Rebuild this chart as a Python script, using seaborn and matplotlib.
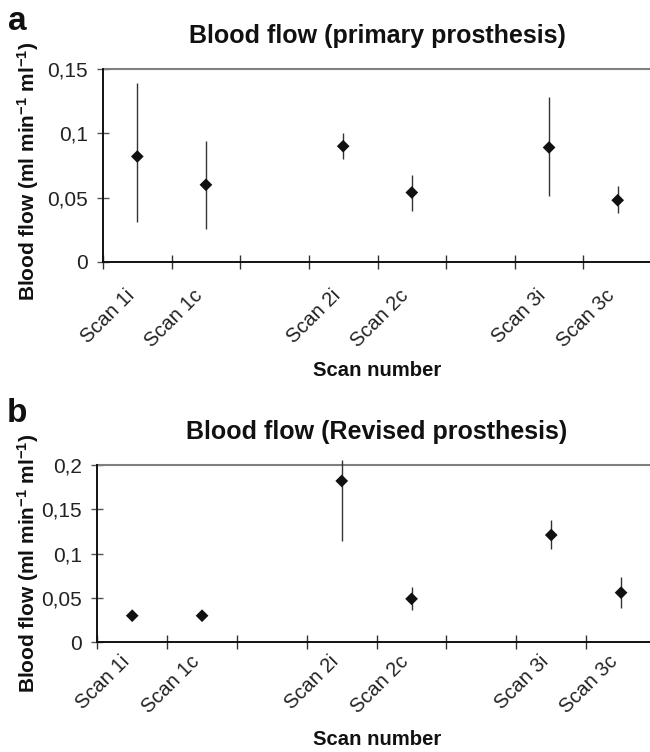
import numpy as np
import pandas as pd
import matplotlib
matplotlib.use("Agg")
import matplotlib.pyplot as plt
import matplotlib.transforms as mtransforms
import seaborn as sns

# ---- data ----
scans = ["Scan 1i", "Scan 1c", "Scan 2i", "Scan 2c", "Scan 3i", "Scan 3c"]
slots = [0, 1, 3, 4, 6, 7]          # category slot index on an 8-slot axis
n_slots = 8

primary_mean = [0.082, 0.060, 0.090, 0.054, 0.089, 0.048]
primary_low = [0.031, 0.026, 0.080, 0.040, 0.051, 0.038]
primary_high = [0.139, 0.094, 0.100, 0.068, 0.128, 0.059]

revised_mean = [0.030, 0.030, 0.182, 0.049, 0.121, 0.056]
revised_low = [0.030, 0.030, 0.114, 0.036, 0.105, 0.039]
revised_high = [0.030, 0.030, 0.206, 0.062, 0.138, 0.074]

yticks_a = [0, 0.05, 0.1, 0.15]
ytick_labels_a = ["0", "0,05", "0,1", "0,15"]
yticks_b = [0, 0.05, 0.1, 0.15, 0.2]
ytick_labels_b = ["0", "0,05", "0,1", "0,15", "0,2"]

title_a = "Blood flow (primary prosthesis)"
title_b = "Blood flow (Revised prosthesis)"
ylabel = "Blood flow (ml min$^{-1}$ ml$^{-1}$)"
xlabel = "Scan number"

# ---- style ----
sns.set_style("ticks")
plt.rcParams["font.family"] = ["Liberation Sans", "DejaVu Sans"]
plt.rcParams["mathtext.fontset"] = "custom"
plt.rcParams["mathtext.bf"] = "Liberation Sans:bold"
plt.rcParams["mathtext.rm"] = "Liberation Sans:bold"
plt.rcParams["mathtext.default"] = "bf"

fig = plt.figure(figsize=(6.5, 7.52), dpi=100)
W, H = 650, 752


def make_axes(left, right, top, bottom):
    return fig.add_axes([left / W, 1 - bottom / H, (right - left) / W, (bottom - top) / H])


ax_a = make_axes(103, 652, 69, 262)
ax_b = make_axes(97.3, 656, 465, 642.3)


def draw(ax, mean, low, high, yticks, yticklabels, ymax, title, title_y,
         xpad, ylab_xy, xlab_y):
    df = pd.DataFrame({"scan": scans, "pos": np.array(slots) + 0.5,
                       "mean": mean, "low": low, "high": high})
    ax.vlines(df["pos"], df["low"], df["high"], color="#333333",
              linewidth=1.0, zorder=2, clip_on=False)
    sns.scatterplot(data=df, x="pos", y="mean", marker="D", s=42,
                    color="#111111", edgecolor="none", ax=ax, zorder=3,
                    clip_on=False, legend=False)
    ax.set_xlim(0, n_slots)
    ax.set_ylim(0, ymax)
    ax.axhline(ymax, color="#7f7f7f", linewidth=1.5, zorder=1, clip_on=False)
    for s in ["top", "right"]:
        ax.spines[s].set_visible(False)
    for s in ["left", "bottom"]:
        ax.spines[s].set_linewidth(1.4)
        ax.spines[s].set_color("#111111")
    ax.set_xticks(range(n_slots + 1))
    ax.set_xticklabels([])
    ax.set_xticks(df["pos"], minor=True)
    ax.set_xticklabels(scans, minor=True, rotation=45, ha="right",
                       rotation_mode="anchor", va="center", fontsize=14.5,
                       color="#222222")
    ax.tick_params(axis="x", which="major", direction="inout", length=10,
                   width=1.0, color="#333333")
    ax.tick_params(axis="x", which="minor", length=0, pad=xpad)
    shift = mtransforms.ScaledTranslation(-6 / 100, 0, fig.dpi_scale_trans)
    for lab in ax.get_xticklabels(minor=True):
        lab.set_transform(lab.get_transform() + shift)
    ax.set_yticks(yticks)
    ax.set_yticklabels(yticklabels, fontsize=15, color="#222222")
    ax.tick_params(axis="y", direction="inout", length=9, width=1.0,
                   color="#555555", pad=6.5)
    ax.set_xlabel(xlabel, fontsize=14.6, fontweight="bold", color="#111111")
    ax.xaxis.set_label_coords(0.5, xlab_y)
    ax.xaxis.label.set_va("center")
    ax.set_ylabel(ylabel, fontsize=15, fontweight="bold", color="#111111")
    ax.yaxis.set_label_coords(*ylab_xy)
    ax.yaxis.label.set_va("center")
    fig.text(0.5 * (ax.get_position().x0 + ax.get_position().x1), 1 - title_y / H,
             title, ha="center", va="center", fontsize=18,
             fontweight="bold", color="#111111")


draw(ax_a, primary_mean, primary_low, primary_high, yticks_a, ytick_labels_a,
     0.15, title_a, 36, 22, (-0.137, 0.47), -0.56)
draw(ax_b, revised_mean, revised_low, revised_high, yticks_b, ytick_labels_b,
     0.2, title_b, 432, 12, (-0.124, 0.444), -0.551)

fig.text(17 / W, 1 - 22 / H, "a", ha="center", va="center", fontsize=24,
         fontweight="bold", color="#111111")
fig.text(17 / W, 1 - 413 / H, "b", ha="center", va="center", fontsize=24,
         fontweight="bold", color="#111111")

fig.savefig("out.png", dpi=100)
